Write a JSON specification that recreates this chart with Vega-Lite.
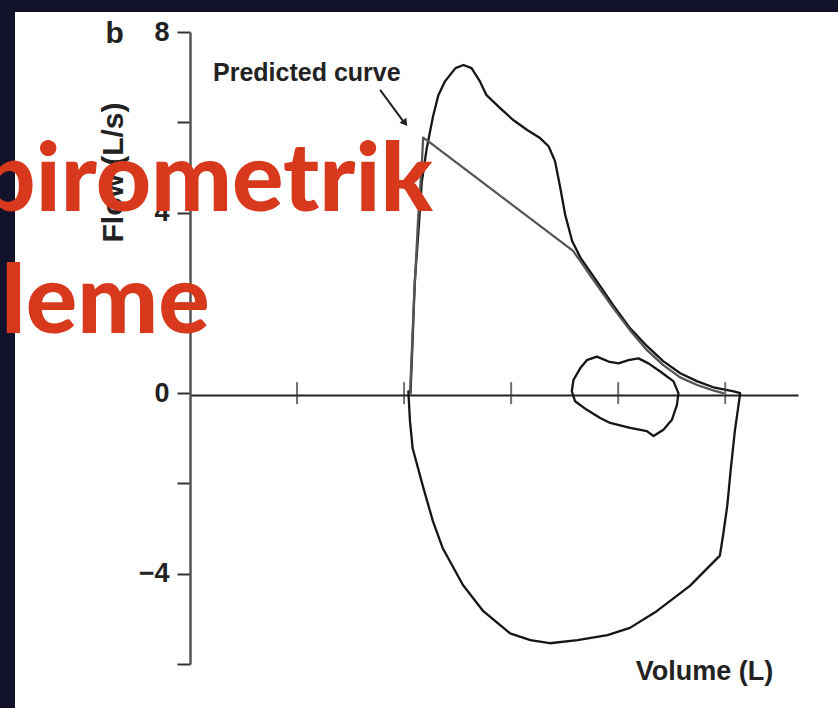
{
  "$schema": "https://vega.github.io/schema/vega-lite/v6.json",
  "autosize": {"type": "none"},
  "width": 823,
  "height": 696,
  "padding": {"left": 15, "top": 12, "right": 0, "bottom": 0},
  "background": "#12122a",
  "view": {"fill": "white", "stroke": null},
  "config": {"font": "Liberation Sans"},
  "datasets": {
    "curves": [
      {"s": "loop", "i": 1, "v": 2.06, "f": 0.0},
      {"s": "loop", "i": 2, "v": 2.08, "f": 1.2},
      {"s": "loop", "i": 3, "v": 2.1, "f": 2.47},
      {"s": "loop", "i": 4, "v": 2.135, "f": 3.61},
      {"s": "loop", "i": 5, "v": 2.165, "f": 4.67},
      {"s": "loop", "i": 6, "v": 2.21, "f": 5.4},
      {"s": "loop", "i": 7, "v": 2.27, "f": 6.13},
      {"s": "loop", "i": 8, "v": 2.32, "f": 6.6},
      {"s": "loop", "i": 9, "v": 2.38, "f": 6.9},
      {"s": "loop", "i": 10, "v": 2.48, "f": 7.2},
      {"s": "loop", "i": 11, "v": 2.555, "f": 7.27},
      {"s": "loop", "i": 12, "v": 2.63, "f": 7.2},
      {"s": "loop", "i": 13, "v": 2.71, "f": 6.9},
      {"s": "loop", "i": 14, "v": 2.77, "f": 6.6},
      {"s": "loop", "i": 15, "v": 2.9, "f": 6.31},
      {"s": "loop", "i": 16, "v": 3.02, "f": 6.05},
      {"s": "loop", "i": 17, "v": 3.15, "f": 5.83},
      {"s": "loop", "i": 18, "v": 3.27, "f": 5.65},
      {"s": "loop", "i": 19, "v": 3.35, "f": 5.47},
      {"s": "loop", "i": 20, "v": 3.41, "f": 5.14},
      {"s": "loop", "i": 21, "v": 3.46, "f": 4.54},
      {"s": "loop", "i": 22, "v": 3.505, "f": 3.95},
      {"s": "loop", "i": 23, "v": 3.57, "f": 3.37},
      {"s": "loop", "i": 24, "v": 3.65, "f": 2.99},
      {"s": "loop", "i": 25, "v": 3.8, "f": 2.48},
      {"s": "loop", "i": 26, "v": 3.95, "f": 1.96},
      {"s": "loop", "i": 27, "v": 4.11, "f": 1.44},
      {"s": "loop", "i": 28, "v": 4.27, "f": 1.04},
      {"s": "loop", "i": 29, "v": 4.42, "f": 0.71},
      {"s": "loop", "i": 30, "v": 4.58, "f": 0.44},
      {"s": "loop", "i": 31, "v": 4.74, "f": 0.26},
      {"s": "loop", "i": 32, "v": 4.89, "f": 0.13},
      {"s": "loop", "i": 33, "v": 5.08, "f": 0.04},
      {"s": "loop", "i": 34, "v": 5.14, "f": 0.0},
      {"s": "loop", "i": 35, "v": 5.09, "f": -0.84},
      {"s": "loop", "i": 36, "v": 5.05, "f": -1.73},
      {"s": "loop", "i": 37, "v": 5.02, "f": -2.48},
      {"s": "loop", "i": 38, "v": 4.98, "f": -3.15},
      {"s": "loop", "i": 39, "v": 4.95, "f": -3.6},
      {"s": "loop", "i": 40, "v": 4.67, "f": -4.27},
      {"s": "loop", "i": 41, "v": 4.36, "f": -4.83},
      {"s": "loop", "i": 42, "v": 4.11, "f": -5.2},
      {"s": "loop", "i": 43, "v": 3.9, "f": -5.36},
      {"s": "loop", "i": 44, "v": 3.62, "f": -5.47},
      {"s": "loop", "i": 45, "v": 3.36, "f": -5.54},
      {"s": "loop", "i": 46, "v": 3.18, "f": -5.47},
      {"s": "loop", "i": 47, "v": 2.99, "f": -5.32},
      {"s": "loop", "i": 48, "v": 2.74, "f": -4.83},
      {"s": "loop", "i": 49, "v": 2.55, "f": -4.25},
      {"s": "loop", "i": 50, "v": 2.36, "f": -3.43},
      {"s": "loop", "i": 51, "v": 2.27, "f": -2.84},
      {"s": "loop", "i": 52, "v": 2.18, "f": -2.1},
      {"s": "loop", "i": 53, "v": 2.08, "f": -1.22},
      {"s": "loop", "i": 54, "v": 2.055, "f": -0.62},
      {"s": "loop", "i": 55, "v": 2.04, "f": 0.04},
      {"s": "tidal", "i": 1, "v": 3.567, "f": 0.04},
      {"s": "tidal", "i": 2, "v": 3.582, "f": 0.29},
      {"s": "tidal", "i": 3, "v": 3.645, "f": 0.55},
      {"s": "tidal", "i": 4, "v": 3.707, "f": 0.73},
      {"s": "tidal", "i": 5, "v": 3.801, "f": 0.81},
      {"s": "tidal", "i": 6, "v": 3.91, "f": 0.7},
      {"s": "tidal", "i": 7, "v": 4.003, "f": 0.66},
      {"s": "tidal", "i": 8, "v": 4.096, "f": 0.73},
      {"s": "tidal", "i": 9, "v": 4.19, "f": 0.77},
      {"s": "tidal", "i": 10, "v": 4.283, "f": 0.66},
      {"s": "tidal", "i": 11, "v": 4.393, "f": 0.48},
      {"s": "tidal", "i": 12, "v": 4.517, "f": 0.26},
      {"s": "tidal", "i": 13, "v": 4.563, "f": 0.0},
      {"s": "tidal", "i": 14, "v": 4.549, "f": -0.26},
      {"s": "tidal", "i": 15, "v": 4.502, "f": -0.59},
      {"s": "tidal", "i": 16, "v": 4.423, "f": -0.81},
      {"s": "tidal", "i": 17, "v": 4.33, "f": -0.95},
      {"s": "tidal", "i": 18, "v": 4.268, "f": -0.84},
      {"s": "tidal", "i": 19, "v": 4.112, "f": -0.77},
      {"s": "tidal", "i": 20, "v": 3.925, "f": -0.66},
      {"s": "tidal", "i": 21, "v": 3.832, "f": -0.55},
      {"s": "tidal", "i": 22, "v": 3.707, "f": -0.37},
      {"s": "tidal", "i": 23, "v": 3.598, "f": -0.18},
      {"s": "tidal", "i": 24, "v": 3.567, "f": 0.04},
      {"s": "predicted", "i": 1, "v": 2.056, "f": 0.0},
      {"s": "predicted", "i": 2, "v": 2.093, "f": 2.09},
      {"s": "predicted", "i": 3, "v": 2.131, "f": 3.85},
      {"s": "predicted", "i": 4, "v": 2.168, "f": 5.18},
      {"s": "predicted", "i": 5, "v": 2.178, "f": 5.66},
      {"s": "predicted", "i": 6, "v": 2.243, "f": 5.55},
      {"s": "predicted", "i": 7, "v": 3.579, "f": 3.15},
      {"s": "predicted", "i": 8, "v": 3.645, "f": 2.93},
      {"s": "predicted", "i": 9, "v": 3.794, "f": 2.42},
      {"s": "predicted", "i": 10, "v": 3.953, "f": 1.89},
      {"s": "predicted", "i": 11, "v": 4.112, "f": 1.39},
      {"s": "predicted", "i": 12, "v": 4.262, "f": 0.97},
      {"s": "predicted", "i": 13, "v": 4.421, "f": 0.62},
      {"s": "predicted", "i": 14, "v": 4.579, "f": 0.35},
      {"s": "predicted", "i": 15, "v": 4.738, "f": 0.18},
      {"s": "predicted", "i": 16, "v": 4.888, "f": 0.06},
      {"s": "predicted", "i": 17, "v": 4.981, "f": 0.0}
    ],
    "xticks": [{"v": 1}, {"v": 2}, {"v": 3}, {"v": 4}, {"v": 5}]
  },
  "layer": [
    {
      "data": {"name": "curves"},
      "mark": {"type": "line", "interpolate": "linear", "strokeJoin": "round", "strokeCap": "round"},
      "encoding": {
        "x": {
          "field": "v", "type": "quantitative",
          "scale": {"domain": [0, 5.68], "range": [175, 783], "nice": false, "zero": false},
          "axis": {
            "orient": "bottom", "offset": -313, "domain": true, "domainColor": "#222", "domainWidth": 2,
            "ticks": false, "labels": false, "grid": false,
            "title": "Volume (L)", "titleFont": "Liberation Sans", "titleFontWeight": "bold", "titleFontSize": 27,
            "titleColor": "#222", "titleX": 689, "titleY": 284, "titleAlign": "center", "titleBaseline": "alphabetic"
          }
        },
        "y": {
          "field": "f", "type": "quantitative",
          "scale": {"domain": [-6, 8], "range": [652, 20], "nice": false, "zero": false},
          "axis": {
            "orient": "left", "offset": -175, "values": [-6, -4, -2, 0, 2, 4, 6, 8],
            "labelExpr": "datum.value % 4 === 0 ? datum.label : ''",
            "labelFont": "Liberation Sans", "labelFontWeight": "bold", "labelFontSize": 27, "labelColor": "#222",
            "labelPadding": 8, "tickSize": 13, "tickWidth": 2, "tickColor": "#333",
            "domainColor": "#555", "domainWidth": 2.5, "grid": false,
            "title": "Flow (L/s)", "titleFont": "Liberation Sans", "titleFontWeight": "bold", "titleFontSize": 30,
            "titleColor": "#222", "titleX": -77, "titleY": 160, "titleAngle": -90, "titleAlign": "center", "titleBaseline": "middle"
          }
        },
        "detail": {"field": "s"},
        "order": {"field": "i", "type": "quantitative"},
        "color": {"field": "s", "type": "nominal", "scale": {"domain": ["loop", "tidal", "predicted"], "range": ["#151515", "#151515", "#555555"]}, "legend": null},
        "strokeWidth": {"field": "s", "type": "nominal", "scale": {"domain": ["loop", "tidal", "predicted"], "range": [2.3, 2.3, 1.2]}, "legend": null}
      }
    },
    {
      "data": {"name": "xticks"},
      "mark": {"type": "tick", "orient": "vertical", "size": 22, "thickness": 2, "color": "#333"},
      "encoding": {
        "x": {"field": "v", "type": "quantitative"},
        "y": {"datum": 0, "type": "quantitative"}
      }
    },
    {
      "data": {"values": [{}]},
      "mark": {"type": "text", "text": "b", "font": "Liberation Sans", "fontWeight": "bold", "fontSize": 30, "align": "left", "baseline": "alphabetic", "color": "#222"},
      "encoding": {
        "x": {"datum": -0.79, "type": "quantitative"},
        "y": {"datum": 7.75, "type": "quantitative"}
      }
    },
    {
      "data": {"values": [{}]},
      "mark": {"type": "text", "text": "Predicted curve", "font": "Liberation Sans", "fontWeight": "bold", "fontSize": 25, "align": "left", "baseline": "alphabetic", "color": "#222"},
      "encoding": {
        "x": {"datum": 0.215, "type": "quantitative"},
        "y": {"datum": 6.91, "type": "quantitative"}
      }
    },
    {
      "data": {"values": [{}]},
      "mark": {"type": "rule", "color": "#222", "strokeWidth": 2},
      "encoding": {
        "x": {"datum": 1.776, "type": "quantitative"},
        "y": {"datum": 6.72, "type": "quantitative"},
        "x2": {"datum": 2.0},
        "y2": {"datum": 6.0}
      }
    },
    {
      "data": {"values": [{}]},
      "mark": {"type": "point", "shape": "triangle-up", "filled": true, "size": 70, "angle": 143, "color": "#222", "opacity": 1},
      "encoding": {
        "x": {"datum": 2.009, "type": "quantitative"},
        "y": {"datum": 5.98, "type": "quantitative"}
      }
    },
    {
      "data": {"values": [{}]},
      "mark": {"type": "text", "text": ["Spirometrik", "İzleme"], "font": "Lato", "fontWeight": 900, "fontSize": 96, "lineHeight": 122, "align": "left", "baseline": "alphabetic", "color": "#d8391d"},
      "encoding": {
        "x": {"datum": -2.44, "type": "quantitative"},
        "y": {"datum": 4.03, "type": "quantitative"}
      }
    }
  ]
}
